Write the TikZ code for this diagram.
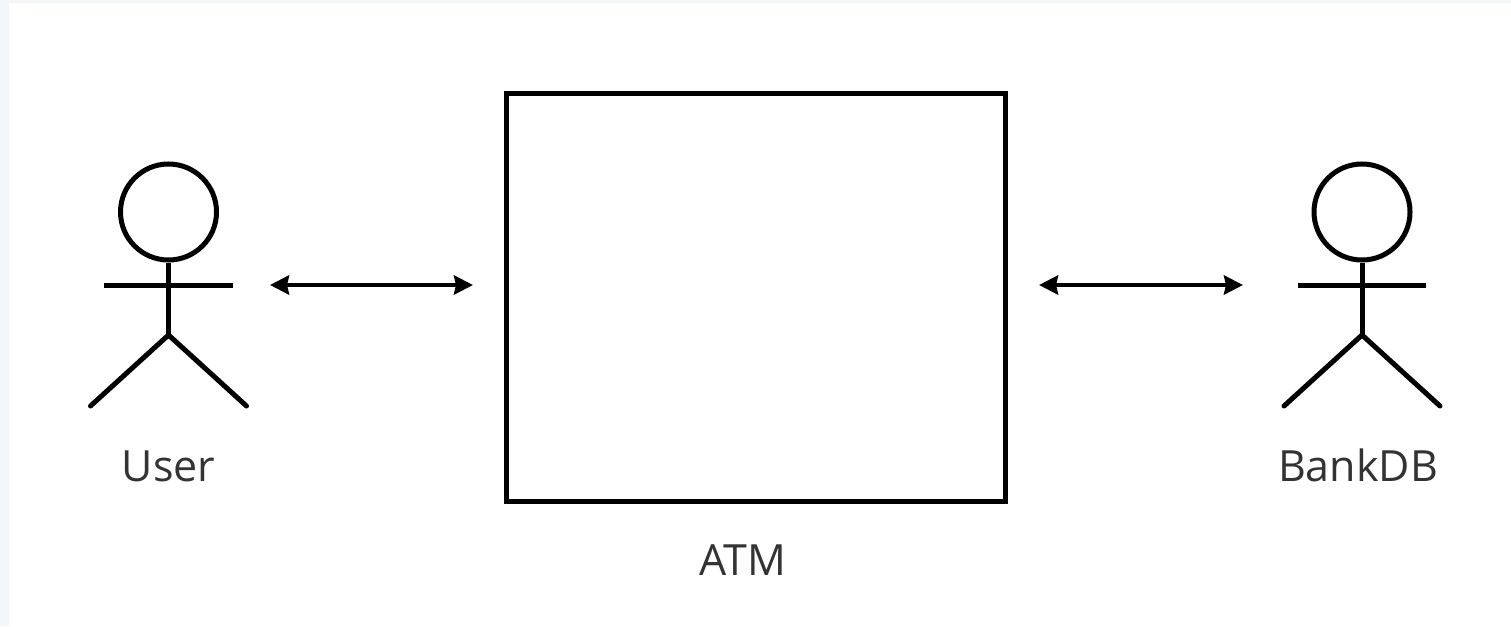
\documentclass[tikz,border=0pt]{standalone}
\usepackage{fontspec}
\setmainfont{Open Sans}
\usetikzlibrary{arrows.meta}
\definecolor{stripcol}{HTML}{F3F7F9}
\definecolor{labelcol}{HTML}{333333}
\tikzset{
  figline/.style={black,line width=5pt},
  boxline/.style={black,line width=5.4pt},
  dbl/.style={black,line width=4.4pt,{Stealth[length=19pt,width=19pt,inset=2pt]}-{Stealth[length=19pt,width=19pt,inset=2pt]}},
  lab/.style={text=labelcol,font=\fontsize{43}{43}\selectfont,inner sep=0pt,anchor=base}
}
\newcommand{\stickfig}[2]{%
  \node[draw,figline,circle,minimum size=96pt,inner sep=0pt] (#2head) at (#1,212) {};
  \coordinate (#2hip) at (#1,335);
  \coordinate (#2la) at ({#1-64.5},285);
  \coordinate (#2ra) at ({#1+64},285);
  \coordinate (#2ll) at ({#1-78},406);
  \coordinate (#2rl) at ({#1+78},406);
  \draw[figline] (#2head.south) -- (#2hip);
  \draw[figline] (#2la) -- (#2ra);
  \draw[figline,line cap=round,line join=miter] (#2ll) -- (#2hip) -- (#2rl);
}
\begin{document}
\begin{tikzpicture}[x=1pt,y=-1pt]
\useasboundingbox (0,0) rectangle (1511,626);
\fill[white] (0,0) rectangle (1511,626);
\fill[stripcol] (0,0) rectangle (9,626);
\fill[stripcol] (0,0) rectangle (1511,3);
\node[draw,boxline,minimum width=498.5pt,minimum height=408pt,inner sep=0pt] (atm) at (756,297.25) {};
\stickfig{168.5}{u}
\stickfig{1362}{b}
\coordinate (a1) at (270,285);
\coordinate (a2) at (473,285);
\coordinate (a3) at (1039,285);
\coordinate (a4) at (1243,285);
\draw[dbl] (a1) -- (a2);
\draw[dbl] (a3) -- (a4);
\node[lab] (userlab) at (168.5,481) {User};
\node[lab] (banklab) at (1358,481) {BankDB};
\node[lab] (atmlab) at (743,575) {ATM};
\end{tikzpicture}
\end{document}
